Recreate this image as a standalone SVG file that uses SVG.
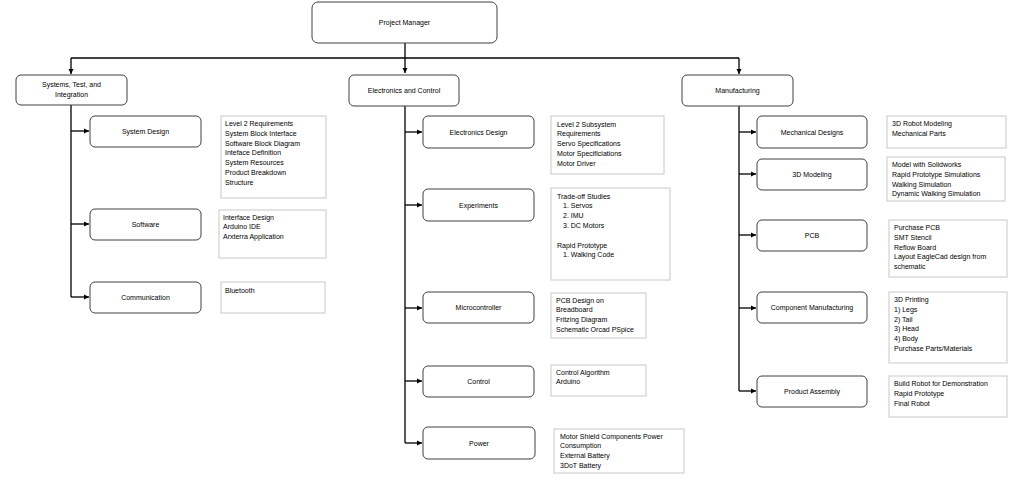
<svg xmlns="http://www.w3.org/2000/svg" width="1030" height="485" viewBox="0 0 1030 485">
<defs>
<marker id="ah" markerWidth="6" markerHeight="6" refX="5" refY="3" orient="auto" markerUnits="userSpaceOnUse">
<path d="M0,0.5 L5,3 L0,5.5 Z" fill="#000"/>
</marker>
<style>
.n{fill:#fff;stroke:#404040;stroke-width:1}
.t{fill:#fff;stroke:#c8c8c8;stroke-width:1}
.c{fill:none;stroke:#000;stroke-width:1.3}
.a{fill:none;stroke:#000;stroke-width:1.3;marker-end:url(#ah)}
text{font-family:"Liberation Sans",Arial,sans-serif;font-size:7px;fill:#000}
.m{text-anchor:middle}
</style>
</defs>
<rect width="1030" height="485" fill="#fff"/>
<g id="connectors">
<path class="a" d="M405,43 V73"/>
<path class="c" d="M71,58 H739"/>
<path class="a" d="M71,58 V74"/>
<path class="a" d="M739,58 V74"/>
<path class="c" d="M71,105 V297"/>
<path class="a" d="M71,131 H89"/>
<path class="a" d="M71,224 H89"/>
<path class="a" d="M71,297 H89"/>
<path class="c" d="M405,106 V443"/>
<path class="a" d="M405,132 H422"/>
<path class="a" d="M405,205 H422"/>
<path class="a" d="M405,308 H422"/>
<path class="a" d="M405,381 H422"/>
<path class="a" d="M405,443 H422"/>
<path class="c" d="M739,106 V391"/>
<path class="a" d="M739,132 H756"/>
<path class="a" d="M739,174 H756"/>
<path class="a" d="M739,235 H756"/>
<path class="a" d="M739,308 H756"/>
<path class="a" d="M739,391 H756"/>
</g>
<g id="project-manager"><rect class="n" x="312" y="2" width="185" height="41" rx="6"/><text class="m" x="404.5" y="25">Project Manager</text></g>
<g id="systems"><rect class="n" x="16" y="75" width="111" height="30" rx="5"/><text class="m" x="71.5" y="87">Systems, Test, and</text><text class="m" x="71.5" y="97">Integration</text></g>
<g id="electronics"><rect class="n" x="349" y="75" width="110" height="31" rx="5"/><text class="m" x="404" y="93">Electronics and Control</text></g>
<g id="manufacturing"><rect class="n" x="682" y="75" width="111" height="31" rx="5"/><text class="m" x="737.5" y="93">Manufacturing</text></g>

<g id="system-design"><rect class="n" x="90" y="116" width="111" height="31" rx="5"/><text class="m" x="145.5" y="134">System Design</text></g>
<g id="system-design-notes"><rect class="t" x="221" y="116" width="105" height="82"/>
<text x="225" y="126">Level 2 Requirements</text><text x="225" y="135.8">System Block Interface</text><text x="225" y="145.6">Software Block Diagram</text><text x="225" y="155.4">Inteface Definition</text><text x="225" y="165.2">System Resources</text><text x="225" y="175">Product Breakdown</text><text x="225" y="184.8">Structure</text></g>
<g id="software"><rect class="n" x="90" y="209" width="111" height="31" rx="5"/><text class="m" x="145.5" y="227">Software</text></g>
<g id="software-notes"><rect class="t" x="219" y="210" width="107" height="48"/>
<text x="223" y="219.5">Interface Design</text><text x="223" y="229.3">Arduino IDE</text><text x="223" y="239.1">Arxterra Application</text></g>
<g id="communication"><rect class="n" x="90" y="282" width="111" height="31" rx="5"/><text class="m" x="145.5" y="300">Communication</text></g>
<g id="communication-notes"><rect class="t" x="221" y="282" width="104" height="31"/><text x="225" y="292.5">Bluetooth</text></g>

<g id="electronics-design"><rect class="n" x="423" y="116" width="111" height="32" rx="5"/><text class="m" x="478.5" y="134.5">Electronics Design</text></g>
<g id="electronics-design-notes"><rect class="t" x="551" y="116" width="113" height="58"/>
<text x="557" y="126.5">Level 2 Subsystem</text><text x="557" y="136.3">Requirements</text><text x="557" y="146.1">Servo Specifications</text><text x="557" y="155.9">Motor Specificiations</text><text x="557" y="165.7">Motor Driver</text></g>
<g id="experiments"><rect class="n" x="423" y="189" width="111" height="32" rx="5"/><text class="m" x="478.5" y="207.5">Experiments</text></g>
<g id="experiments-notes"><rect class="t" x="551" y="188" width="119" height="92"/>
<text x="557" y="198.5">Trade-off Studies</text><text x="563" y="208.3">1. Servos</text><text x="563" y="218.1">2. IMU</text><text x="563" y="227.9">3. DC Motors</text><text x="557" y="247.5">Rapid Prototype</text><text x="563" y="257.3">1. Walking Code</text></g>
<g id="microcontroller"><rect class="n" x="423" y="292" width="111" height="31" rx="5"/><text class="m" x="478.5" y="310">Microcontroller</text></g>
<g id="microcontroller-notes"><rect class="t" x="551" y="293" width="95" height="45"/>
<text x="556" y="302.5">PCB Design on</text><text x="556" y="312.3">Breadboard</text><text x="556" y="322.1">Fritzing Diagram</text><text x="556" y="331.9">Schematic Orcad PSpice</text></g>
<g id="control"><rect class="n" x="423" y="366" width="111" height="31" rx="5"/><text class="m" x="478.5" y="384">Control</text></g>
<g id="control-notes"><rect class="t" x="551" y="365" width="95" height="31"/>
<text x="556" y="374.5">Control Algorithm</text><text x="556" y="384.3">Arduino</text></g>
<g id="power"><rect class="n" x="423" y="427" width="112" height="32" rx="5"/><text class="m" x="479" y="445.5">Power</text></g>
<g id="power-notes"><rect class="t" x="554" y="429" width="130" height="44"/>
<text x="560" y="438.5">Motor Shield Components Power</text><text x="560" y="448.3">Consumption</text><text x="560" y="458.1">External Battery</text><text x="560" y="467.9">3DoT Battery</text></g>

<g id="mechanical-designs"><rect class="n" x="757" y="116" width="110" height="32" rx="5"/><text class="m" x="812" y="134.5">Mechanical Designs</text></g>
<g id="mechanical-designs-notes"><rect class="t" x="887" y="116" width="119" height="32"/>
<text x="892" y="126">3D Robot Modeling</text><text x="892" y="135.8">Mechanical Parts</text></g>
<g id="modeling-3d"><rect class="n" x="757" y="159" width="110" height="31" rx="5"/><text class="m" x="812" y="177">3D Modeling</text></g>
<g id="modeling-3d-notes"><rect class="t" x="887" y="157" width="118" height="44"/>
<text x="892" y="167">Model with Solidworks</text><text x="892" y="176.8">Rapid Prototype Simulations</text><text x="892" y="186.6">Walking Simulation</text><text x="892" y="196.4">Dynamic Walking Simulation</text></g>
<g id="pcb"><rect class="n" x="757" y="220" width="110" height="31" rx="5"/><text class="m" x="812" y="238">PCB</text></g>
<g id="pcb-notes"><rect class="t" x="889" y="220" width="118" height="57"/>
<text x="894" y="230">Purchase PCB</text><text x="894" y="239.8">SMT Stencil</text><text x="894" y="249.6">Reflow Board</text><text x="894" y="259.4">Layout EagleCad design from</text><text x="894" y="269.2">schematic</text></g>
<g id="component-manufacturing"><rect class="n" x="757" y="292" width="110" height="31" rx="5"/><text class="m" x="812" y="310">Component Manufacturing</text></g>
<g id="component-manufacturing-notes"><rect class="t" x="889" y="292" width="118" height="71"/>
<text x="894" y="302">3D Printing</text><text x="894" y="311.8">1) Legs</text><text x="894" y="321.6">2) Tail</text><text x="894" y="331.4">3) Head</text><text x="894" y="341.2">4) Body</text><text x="894" y="351">Purchase Parts/Materials</text></g>
<g id="product-assembly"><rect class="n" x="757" y="376" width="110" height="31" rx="5"/><text class="m" x="812" y="394">Product Assembly</text></g>
<g id="product-assembly-notes"><rect class="t" x="889" y="376" width="118" height="41"/>
<text x="894" y="386">Build Robot for Demonstration</text><text x="894" y="395.8">Rapid Prototype</text><text x="894" y="405.6">Final Robot</text></g>
</svg>
